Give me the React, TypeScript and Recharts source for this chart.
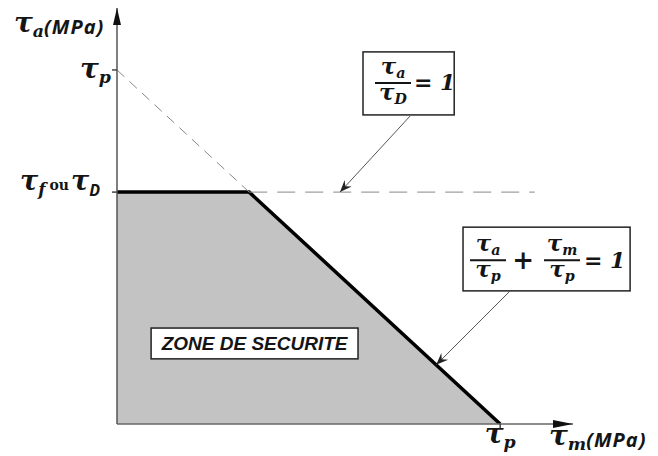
import {
  ComposedChart, Area, XAxis, YAxis, ReferenceLine, ReferenceArea, ReferenceDot
} from 'recharts'

// everything is expressed in units of tau_p
const TAU_P = 1
const TAU_D = 0.655
const KNEE = TAU_P - TAU_D

// upper edge of the safe zone (tau_a = tau_D, then tau_a/tau_p + tau_m/tau_p = 1)
const BOUNDARY_X = [0, KNEE, TAU_P]
const BOUNDARY_Y = [TAU_D, TAU_D, 0]

const X_MAX = 1.19
const Y_MAX = 1.175
const X_TICKS = [TAU_P]
const Y_TICKS = [TAU_D, TAU_P]
const DASH_END = 1.09

const data = BOUNDARY_X.map((x, i) => ({ x, y: BOUNDARY_Y[i] }))

const SERIF = '"DejaVu Serif", serif'
const SANS = '"Open Sans", "Liberation Sans", sans-serif'
const INK = '#151515'

// tau with a subscript, e.g. τp
function tau(sub: string, size = 28, key?: string) {
  return [
    <tspan key={(key || '') + 't'} fontFamily={SERIF} fontSize={size} fontWeight="bold" fontStyle="italic">τ</tspan>,
    <tspan key={(key || '') + 's'} fontFamily={SERIF} fontSize={size * 0.62} fontWeight="bold" fontStyle="italic" dy={size * 0.18}>{sub}</tspan>,
  ]
}

function YTick({ x, y, payload }: any) {
  if (payload.value === TAU_P) {
    return (
      <text x={x + 1} y={y + 8} textAnchor="end" fill={INK}>
        {tau('p')}
      </text>
    )
  }
  return (
    <text x={x - 10} y={y - 2} textAnchor="end" fill={INK}>
      {tau('f', 27, 'a')}
      <tspan fontFamily={SERIF} fontSize={14} fontWeight="bold" dy={-5} dx={4}>ou</tspan>
      <tspan fontFamily={SERIF} fontSize={27} fontWeight="bold" fontStyle="italic" dx={2}>τ</tspan>
      <tspan fontFamily={SANS} fontSize={16} fontWeight="bold" fontStyle="italic" dy={6}>D</tspan>
    </text>
  )
}

function XTick({ x, y }: any) {
  return (
    <text x={x} y={y + 12} textAnchor="middle" fill={INK}>
      {tau('p')}
    </text>
  )
}

function AxisTitle({ x, y, sub }: { x: number; y: number; sub: string }) {
  return (
    <text x={x} y={y} fill={INK}>
      {tau(sub, 28)}
      <tspan fontFamily={SANS} fontSize={20} fontWeight="bold" fontStyle="italic" letterSpacing={1} dy={-3}>(MPa)</tspan>
    </text>
  )
}

function Arrow({ cx, cy, dir }: any) {
  const pts = dir === 'up'
    ? `${cx},${cy} ${cx - 4},${cy + 17} ${cx + 4},${cy + 17}`
    : `${cx},${cy} ${cx - 20},${cy - 4} ${cx - 20},${cy + 4}`
  return <polygon points={pts} fill="#111" />
}

function Leader({ x1, y1, x2, y2 }: any) {
  const a = Math.atan2(y2 - y1, x2 - x1)
  const len = 13
  const w = 0.38
  const p1 = [x2 - len * Math.cos(a - w), y2 - len * Math.sin(a - w)]
  const p2 = [x2 - len * Math.cos(a + w), y2 - len * Math.sin(a + w)]
  const pm = [x2 - len * 0.6 * Math.cos(a), y2 - len * 0.6 * Math.sin(a)]
  return (
    <g>
      <line x1={x1} y1={y1} x2={x2} y2={y2} stroke="#555" strokeWidth={1} />
      <polygon points={`${x2},${y2} ${p1[0]},${p1[1]} ${pm[0]},${pm[1]} ${p2[0]},${p2[1]}`} fill="#222" />
    </g>
  )
}

function Frac({ cx, y, num, den, size = 23 }: any) {
  return (
    <g fill={INK}>
      <text x={cx} y={y - 9} textAnchor="middle">{tau(num, size, 'n')}</text>
      <line x1={cx - 18} x2={cx + 18} y1={y} y2={y} stroke={INK} strokeWidth={2} />
      <text x={cx} y={y + 17} textAnchor="middle">{tau(den, size, 'd')}</text>
    </g>
  )
}

function Box({ viewBox, children }: any) {
  const { x, y, width, height } = viewBox
  return (
    <g>
      <rect x={x} y={y} width={width} height={height} fill="#fff" stroke="#222" strokeWidth={1.5} />
      {children(x, y, width, height)}
    </g>
  )
}

const EqD = (p: any) => (
  <Box viewBox={p.viewBox}>
    {(x: number, y: number) => (
      <g>
        <Frac cx={x + 30} y={y + 31} num="a" den="D" />
        <text x={x + 51} y={y + 38} fill={INK} fontFamily={SERIF} fontSize={22} fontWeight="bold" fontStyle="italic">= 1</text>
      </g>
    )}
  </Box>
)

const EqP = (p: any) => (
  <Box viewBox={p.viewBox}>
    {(x: number, y: number) => (
      <g>
        <Frac cx={x + 25} y={y + 33} num="a" den="p" />
        <text x={x + 60} y={y + 42} textAnchor="middle" fill={INK} fontFamily={SERIF} fontSize={26} fontWeight="bold">+</text>
        <Frac cx={x + 99} y={y + 33} num="m" den="p" />
        <text x={x + 121} y={y + 41} fill={INK} fontFamily={SERIF} fontSize={22} fontWeight="bold" fontStyle="italic">= 1</text>
      </g>
    )}
  </Box>
)

const Zone = (p: any) => (
  <Box viewBox={p.viewBox}>
    {(x: number, y: number, w: number, h: number) => (
      <text x={x + w / 2} y={y + h / 2 + 7} textAnchor="middle" fill={INK} fontFamily='"Liberation Sans", Arial, sans-serif' fontSize={19} fontWeight="bold" fontStyle="italic">
        ZONE DE SECURITE
      </text>
    )}
  </Box>
)

export default function App() {
  return (
    <div style={{ position: 'absolute', left: 0, top: 0, background: '#fff' }}>
      <ComposedChart
        width={658}
        height={456}
        data={data}
        margin={{ top: 8, right: 85, left: 57, bottom: 2 }}
      >
        <XAxis
          type="number"
          dataKey="x"
          domain={[0, X_MAX]}
          ticks={X_TICKS}
          allowDataOverflow
          height={30}
          axisLine={{ stroke: '#666', strokeWidth: 1.5 }}
          tickLine={{ stroke: '#444', strokeWidth: 1.5 }}
          tickSize={5}
          tick={<XTick />}
          label={{ content: (p: any) => <AxisTitle x={p.viewBox.x + p.viewBox.width - 24} y={p.viewBox.y + 21} sub="m" /> }}
        />
        <YAxis
          type="number"
          domain={[0, Y_MAX]}
          ticks={Y_TICKS}
          allowDataOverflow
          width={60}
          axisLine={{ stroke: '#555', strokeWidth: 1.5 }}
          tickLine={{ stroke: '#444', strokeWidth: 1.5 }}
          tickSize={5}
          tickMargin={2}
          tick={<YTick />}
          label={{ content: (p: any) => <AxisTitle x={14} y={p.viewBox.y + 24} sub="a" /> }}
        />
        <Area
          type="linear"
          dataKey="y"
          fill="#c3c3c3"
          fillOpacity={1}
          stroke="#000"
          strokeWidth={3.5}
          dot={false}
          activeDot={false}
          isAnimationActive={false}
        />
        <ReferenceLine
          segment={[{ x: 0, y: TAU_P }, { x: KNEE, y: TAU_D }]}
          stroke="#888"
          strokeWidth={1}
          strokeDasharray="10 7"
        />
        <ReferenceLine
          segment={[{ x: KNEE, y: TAU_D }, { x: DASH_END, y: TAU_D }]}
          stroke="#888"
          strokeWidth={1}
          strokeDasharray="18 10"
        />
        <ReferenceLine
          segment={[{ x: 0.765, y: 0.87 }, { x: 0.582, y: TAU_D }]}
          shape={<Leader />}
        />
        <ReferenceLine
          segment={[{ x: 1.026, y: 0.376 }, { x: TAU_P - 0.167, y: 0.167 }]}
          shape={<Leader />}
        />
        <ReferenceArea x1={0.642} x2={0.88} y1={0.873} y2={1.051} fill="none" stroke="none" ifOverflow="visible" label={{ content: EqD }} />
        <ReferenceArea x1={0.903} x2={1.339} y1={0.376} y2={0.556} fill="none" stroke="none" ifOverflow="visible" label={{ content: EqP }} />
        <ReferenceArea x1={0.089} x2={0.629} y1={0.184} y2={0.271} fill="none" stroke="none" ifOverflow="visible" label={{ content: Zone }} />
        <ReferenceDot x={0} y={Y_MAX} ifOverflow="visible" shape={(p: any) => <Arrow {...p} dir="up" />} />
        <ReferenceDot x={X_MAX} y={0} ifOverflow="visible" shape={(p: any) => <Arrow {...p} dir="right" />} />
      </ComposedChart>
    </div>
  )
}
